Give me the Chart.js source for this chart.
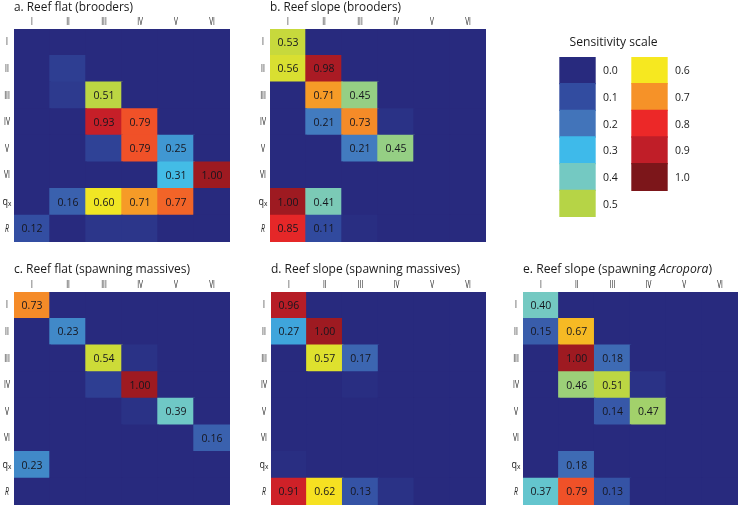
<!DOCTYPE html>
<html>
<head>
<meta charset="utf-8">
<script src="https://cdn.jsdelivr.net/npm/chart.js@4/dist/chart.umd.min.js"></script>
<style>
  body { margin: 0; background: #fff; }
  #wrap { position: relative; width: 740px; height: 506px; overflow: hidden; }
  canvas { position: absolute; }
</style>
</head>
<body>
<div id="wrap">
  <canvas id="pa"></canvas>
  <canvas id="pb"></canvas>
  <canvas id="pc"></canvas>
  <canvas id="pd"></canvas>
  <canvas id="pe"></canvas>
  <canvas id="scale"></canvas>
</div>
<script>
// stage labels
const colLabels = ['I', 'II', 'III', 'IV', 'V', 'VI'];
const rowLabels = ['I', 'II', 'III', 'IV', 'V', 'VI', 'qx', 'R'];

// sensitivity values, rows = I..VI, qx, R ; cols = I..VI
const flatBrooders = [
  [0, 0, 0, 0, 0, 0],
  [0, 0.08, 0, 0, 0, 0],
  [0, 0.07, 0.51, 0, 0, 0],
  [0, 0, 0.93, 0.79, 0, 0],
  [0, 0, 0.09, 0.79, 0.25, 0],
  [0, 0, 0, 0.02, 0.31, 1.00],
  [0, 0.16, 0.60, 0.71, 0.77, 0],
  [0.12, 0.02, 0.06, 0.06, 0, 0]
];
const slopeBrooders = [
  [0.53, 0, 0, 0, 0, 0],
  [0.56, 0.98, 0.02, 0, 0, 0],
  [0.01, 0.71, 0.45, 0.01, 0, 0],
  [0, 0.21, 0.73, 0.05, 0, 0],
  [0, 0, 0.21, 0.45, 0.02, 0],
  [0, 0, 0.01, 0.03, 0.02, 0],
  [1.00, 0.41, 0.03, 0, 0, 0],
  [0.85, 0.11, 0.04, 0, 0, 0]
];
const flatMassives = [
  [0.73, 0, 0, 0, 0, 0],
  [0, 0.23, 0, 0, 0, 0],
  [0, 0.01, 0.54, 0.05, 0, 0],
  [0, 0, 0.08, 1.00, 0, 0],
  [0, 0, 0, 0.05, 0.39, 0],
  [0, 0, 0, 0.01, 0.02, 0.16],
  [0.23, 0, 0, 0.03, 0.01, 0],
  [0, 0.03, 0, 0, 0, 0]
];
const slopeMassives = [
  [0.96, 0, 0, 0, 0, 0],
  [0.27, 1.00, 0, 0, 0, 0],
  [0, 0.57, 0.17, 0, 0, 0],
  [0, 0.01, 0.04, 0.01, 0, 0],
  [0, 0, 0, 0, 0.02, 0],
  [0, 0, 0, 0, 0, 0.03],
  [0.04, 0.02, 0, 0, 0, 0],
  [0.91, 0.62, 0.13, 0.05, 0, 0]
];
const slopeAcropora = [
  [0.40, 0, 0, 0, 0, 0],
  [0.15, 0.67, 0, 0, 0, 0],
  [0.01, 1.00, 0.18, 0, 0, 0],
  [0, 0.46, 0.51, 0.05, 0, 0],
  [0, 0, 0.14, 0.47, 0.01, 0],
  [0, 0, 0.01, 0.02, 0.03, 0.03],
  [0, 0.18, 0, 0.03, 0, 0],
  [0.37, 0.79, 0.13, 0, 0, 0]
];

// legend
const scaleSteps = [0.0, 0.1, 0.2, 0.3, 0.4, 0.5, 0.6, 0.7, 0.8, 0.9, 1.0];
const scaleColors = [
  [40, 42, 126], [50, 76, 160], [66, 116, 186], [62, 186, 234],
  [116, 201, 194], [182, 212, 70], [246, 232, 32], [246, 146, 40],
  [236, 40, 40], [192, 30, 40], [124, 22, 26]
];

const FONT = '"Open Sans", "Noto Sans", sans-serif';

// legend colours are samples of a continuous map; bend it a little at both ends
function colorFor(v) {
  const shift = 0.035 * Math.max(0, 1 - v / 0.2) + 0.05 * Math.max(0, (v - 0.5) / 0.5);
  const t = Math.max(0, Math.min(1, v - shift)) * 10;
  const i = Math.min(9, Math.floor(t));
  const f = t - i;
  const a = scaleColors[i], b = scaleColors[i + 1];
  const c = a.map((x, k) => Math.round(x + (b[k] - x) * f));
  return `rgb(${c[0]},${c[1]},${c[2]})`;
}

const panels = [
  { id: 'pa', title: ['a. Reef flat (brooders)'], data: flatBrooders,
    left: 0, top: 0, w: 245, h: 250, pad: { left: 14, top: 29, right: 15, bottom: 8 }, tw: 119 },
  { id: 'pb', title: ['b. Reef slope (brooders)'], data: slopeBrooders,
    left: 245, top: 0, w: 245, h: 250, pad: { left: 25, top: 29, right: 4, bottom: 8 }, tw: 131 },
  { id: 'pc', title: ['c. Reef flat (spawning massives)'], data: flatMassives,
    left: 0, top: 250, w: 245, h: 256, pad: { left: 14, top: 42, right: 15, bottom: 1 }, tw: 176 },
  { id: 'pd', title: ['d. Reef slope (spawning massives)'], data: slopeMassives,
    left: 245, top: 250, w: 245, h: 256, pad: { left: 26, top: 42, right: 4, bottom: 1 }, tw: 189 },
  { id: 'pe', title: ['e. Reef slope (spawning ', 'Acropora', ')'], data: slopeAcropora,
    left: 490, top: 250, w: 250, h: 256, pad: { left: 33, top: 42, right: 2, bottom: 1 }, tw: 189 }
];

// labels, titles and cell values drawn on top of the bars
const heatLabels = {
  id: 'heatLabels',
  afterDraw(chart, args, opts) {
    const ctx = chart.ctx;
    const area = chart.chartArea;
    const xs = chart.scales.x, ys = chart.scales.y;
    ctx.save();
    ctx.fillStyle = '#1a1a1a';

    // title, with italic middle part when given
    ctx.textBaseline = 'alphabetic';
    ctx.textAlign = 'left';
    const parts = opts.title;
    const fonts = parts.map((p, i) => (i === 1 ? 'italic ' : '') + '12.5px ' + FONT);
    let total = 0;
    const widths = parts.map((p, i) => { ctx.font = fonts[i]; const w = ctx.measureText(p).width; total += w; return w; });
    const k = Math.min(1, opts.tw / total);
    let tx = area.left;
    const ty = area.top - (opts.big ? 19 : 18);
    parts.forEach((p, i) => {
      ctx.font = fonts[i];
      ctx.fillText(p, tx, ty, widths[i] * k);
      tx += widths[i] * k;
    });

    // column labels
    ctx.font = '10px ' + FONT;
    ctx.textAlign = 'center';
    ctx.textBaseline = 'middle';
    colLabels.forEach((c, i) => {
      const w = ctx.measureText(c).width * 0.65;
      ctx.fillText(c, xs.getPixelForValue(i), area.top - 7, w);
    });

    // row labels
    rowLabels.forEach((r, i) => {
      const y = ys.getPixelForValue(i);
      const x = area.left - 7;
      if (r === 'qx') {
        ctx.font = '10px ' + FONT;
        ctx.textAlign = 'right';
        ctx.fillText('q', x + 1, y, 5.5);
        ctx.font = '6.5px ' + FONT;
        ctx.textAlign = 'left';
        ctx.fillText('x', x + 1, y + 2, 3.5);
      } else {
        ctx.font = (r === 'R' ? 'italic ' : '') + '10.5px ' + FONT;
        ctx.textAlign = 'center';
        ctx.fillText(r, x, y, ctx.measureText(r).width * 0.65);
      }
    });

    // cell values
    ctx.font = '10.5px ' + FONT;
    ctx.textAlign = 'center';
    ctx.fillStyle = '#16161e';
    const meta = chart.getDatasetMeta(0);
    meta.data.forEach((bar, i) => {
      const v = chart.data.datasets[0].data[i].v;
      if (v < 0.1) return;
      ctx.fillText(v.toFixed(2), bar.x, (bar.y + bar.base) / 2 + 0.5);
    });
    ctx.restore();
  }
};

panels.forEach(p => {
  const cv = document.getElementById(p.id);
  cv.width = p.w; cv.height = p.h;
  cv.style.left = p.left + 'px'; cv.style.top = p.top + 'px';
  const points = [];
  p.data.forEach((row, r) => row.forEach((v, c) => {
    points.push({ x: colLabels[c], y: [r - 0.5, r + 0.5], v: v });
  }));
  new Chart(cv, {
    type: 'bar',
    data: {
      labels: colLabels,
      datasets: [{
        data: points,
        backgroundColor: c => colorFor(c.raw.v),
        borderWidth: 0,
        inflateAmount: 0.7,
        barPercentage: 1,
        categoryPercentage: 1
      }]
    },
    options: {
      responsive: false,
      animation: false,
      layout: { padding: p.pad },
      plugins: {
        legend: { display: false },
        tooltip: { enabled: false },
        heatLabels: { title: p.title, tw: p.tw, big: p.top > 0 }
      },
      scales: {
        x: { display: false },
        y: { type: 'linear', display: false, reverse: true, min: -0.5, max: 7.5 }
      }
    },
    plugins: [heatLabels]
  });
});

// sensitivity scale legend
const scaleLegend = {
  id: 'scaleLegend',
  afterDraw(chart) {
    const ctx = chart.ctx;
    const area = chart.chartArea;
    ctx.save();
    ctx.fillStyle = '#1a1a1a';
    ctx.font = '12.5px ' + FONT;
    ctx.textAlign = 'center';
    ctx.textBaseline = 'middle';
    ctx.fillText('Sensitivity scale', (area.left + area.right) / 2, 12, 88);
    ctx.font = '10.5px ' + FONT;
    ctx.textAlign = 'left';
    chart.getDatasetMeta(0).data.forEach((bar, i) => {
      ctx.fillText(scaleSteps[i].toFixed(1), bar.x + bar.width / 2 + 8, (bar.y + bar.base) / 2 + 1, 15);
    });
    ctx.restore();
  }
};

const sc = document.getElementById('scale');
sc.width = 170; sc.height = 200;
sc.style.left = '530px'; sc.style.top = '30px';
new Chart(sc, {
  type: 'bar',
  data: {
    labels: ['low', 'high'],
    datasets: [{
      data: scaleSteps.map((s, i) => ({ x: i < 6 ? 'low' : 'high', y: [i % 6, i % 6 + 1] })),
      backgroundColor: c => {
        const col = scaleColors[c.dataIndex];
        return `rgb(${col[0]},${col[1]},${col[2]})`;
      },
      borderWidth: 0,
      inflateAmount: 0.7,
      barPercentage: 35 / 72,
      categoryPercentage: 1
    }]
  },
  options: {
    responsive: false,
    animation: false,
    layout: { padding: { left: 11.5, right: 14.5, top: 27, bottom: 13 } },
    plugins: { legend: { display: false }, tooltip: { enabled: false } },
    scales: {
      x: { display: false },
      y: { type: 'linear', display: false, reverse: true, min: 0, max: 6 }
    }
  },
  plugins: [scaleLegend]
});
</script>
</body>
</html>
